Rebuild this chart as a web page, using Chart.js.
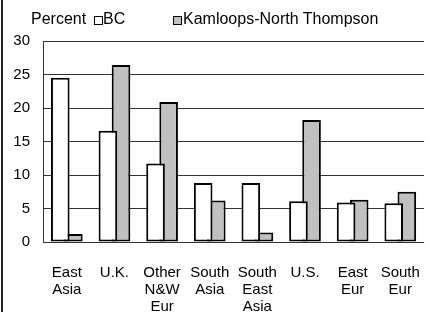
<!DOCTYPE html>
<html>
<head>
<meta charset="utf-8">
<script src="https://cdn.jsdelivr.net/npm/chart.js@4.4.0/dist/chart.umd.min.js"></script>
<style>
  html, body { margin: 0; padding: 0; background: #fff; }
  #wrap { position: relative; width: 434px; height: 312px; font-family: "Liberation Sans", Arial, sans-serif; }
  #frame { position: absolute; left: 1px; top: 0; width: 0; height: 312px; border-left: 2px solid #222; }
  #legend { position: absolute; left: 0; top: 0; width: 434px; height: 34px; font-size: 16px; color: #000; }
  #legend span { position: absolute; top: 10px; line-height: 18px; white-space: nowrap; }
  #legend i { position: absolute; top: 16px; width: 7px; height: 7px; border: 1px solid #000; }
  canvas { position: absolute; left: 0; top: 0; }
</style>
</head>
<body>
<div id="wrap">
  <canvas id="chart" width="434" height="312"></canvas>
  <div id="frame"></div>
  <div id="legend">
    <span style="left:31px">Percent</span>
    <i style="left:94px;background:#fff"></i>
    <span style="left:103px">BC</span>
    <i style="left:173px;background:#c0c0c0"></i>
    <span style="left:183px">Kamloops-North Thompson</span>
  </div>
</div>
<script>
// categories (multi-line labels) and series values, in percent
const categories = [
  ['East', 'Asia'],
  ['U.K.'],
  ['Other', 'N&W', 'Eur'],
  ['South', 'Asia'],
  ['South', 'East', 'Asia'],
  ['U.S.'],
  ['East', 'Eur'],
  ['South', 'Eur']
]
const bcValues = [24.5, 16.6, 11.7, 8.8, 8.8, 6.1, 5.9, 5.8]
const kntValues = [1.2, 26.4, 20.9, 6.2, 1.4, 18.2, 6.3, 7.5]
const yTicks = [0, 5, 10, 15, 20, 25, 30]

const FONT = '"Liberation Sans", Arial, sans-serif'

// bars overlap a little: slot narrower than the bar itself
const barStyle = {
  borderColor: '#000',
  borderWidth: 2,
  borderSkipped: false,
  categoryPercentage: 0.55,
  barPercentage: 1.42
}

new Chart(document.getElementById('chart'), {
  type: 'bar',
  data: {
    labels: categories,
    datasets: [
      { label: 'BC', data: bcValues, backgroundColor: '#ffffff', ...barStyle },
      { label: 'Kamloops-North Thompson', data: kntValues, backgroundColor: '#c0c0c0', ...barStyle }
    ]
  },
  options: {
    responsive: false,
    animation: false,
    layout: { padding: { top: 41, right: 2, left: 0, bottom: 0 } },
    plugins: {
      legend: { display: false },
      tooltip: { enabled: false }
    },
    scales: {
      x: {
        grid: { display: false },
        border: { display: false },
        ticks: {
          color: '#000',
          font: { family: FONT, size: 15, lineHeight: 1.13 },
          maxRotation: 0,
          autoSkip: false,
          padding: 14
        },
        afterFit: (s) => { s.height = 70 }
      },
      y: {
        min: 0,
        max: 30,
        afterBuildTicks: (s) => { s.ticks = yTicks.map(v => ({ value: v })) },
        grid: { color: '#333', lineWidth: 1, drawTicks: false },
        border: { display: true, color: '#333', width: 1 },
        ticks: {
          color: '#000',
          font: { family: FONT, size: 15 },
          padding: 13
        },
        afterFit: (s) => { s.width = 43 }
      }
    }
  }
})
</script>
</body>
</html>
